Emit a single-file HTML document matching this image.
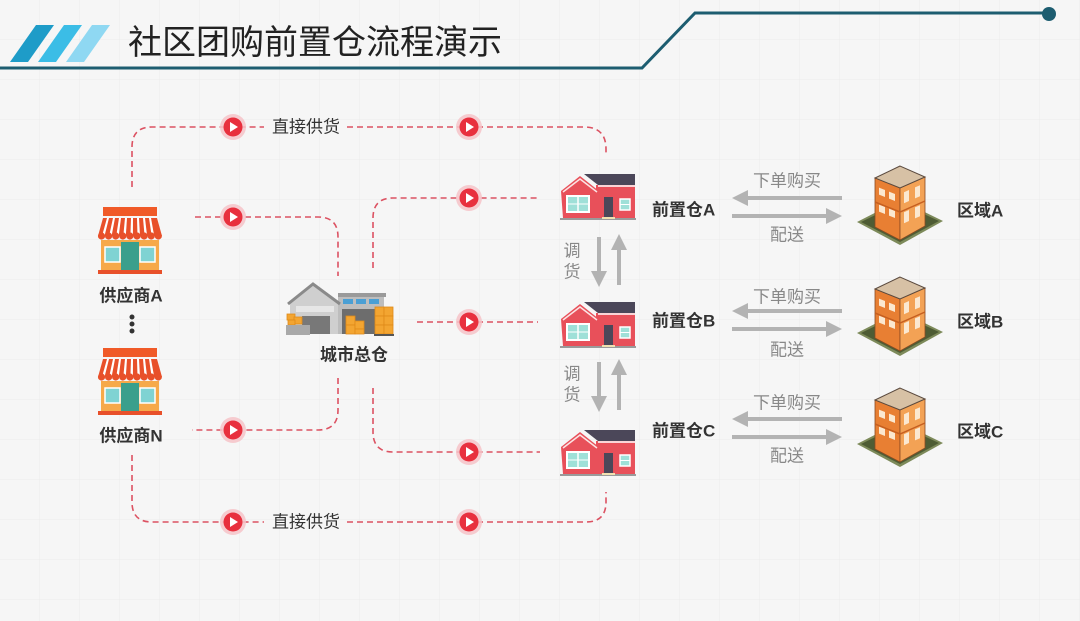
<!DOCTYPE html>
<html><head><meta charset="utf-8"><style>
html,body{margin:0;padding:0;background:#f6f6f6;}
svg{display:block;}
text{font-family:"Liberation Sans","Noto Sans CJK SC",sans-serif;}
</style></head><body>
<svg width="1080" height="621" viewBox="0 0 1080 621" xmlns="http://www.w3.org/2000/svg">
<defs>
<pattern id="grid" width="40" height="40" patternUnits="userSpaceOnUse">
<path d="M40 0V40M0 40H40" stroke="#ececec" stroke-width="1" fill="none"/>
</pattern>
<g id="play">
<circle r="13" fill="#f6c3c8" opacity="0.85"/>
<circle r="9.5" fill="#e8303e"/>
<polygon points="-3,-5 -3,5 5,0" fill="#fff"/>
</g>
<g id="store">
<rect x="6" y="0" width="54" height="9" fill="#f05a28"/>
<polygon points="6,11 60,11 65,29 1,29" fill="#e8502a"/>
<polygon points="10,11 12,11 7.5,29 5,29" fill="#fff"/>
<polygon points="16,11 18,11 14.6,29 12.1,29" fill="#fff"/>
<polygon points="22,11 24,11 21.7,29 19.2,29" fill="#fff"/>
<polygon points="28,11 30,11 28.8,29 26.3,29" fill="#fff"/>
<polygon points="34,11 36,11 35.9,29 33.4,29" fill="#fff"/>
<polygon points="40,11 42,11 43,29 40.5,29" fill="#fff"/>
<polygon points="46,11 48,11 50.1,29 47.6,29" fill="#fff"/>
<polygon points="52,11 54,11 57.2,29 54.7,29" fill="#fff"/>
<g fill="#e8502a">
<circle cx="4.5" cy="29" r="3.6"/><circle cx="11.6" cy="29" r="3.6"/><circle cx="18.7" cy="29" r="3.6"/>
<circle cx="25.8" cy="29" r="3.6"/><circle cx="32.9" cy="29" r="3.6"/><circle cx="40" cy="29" r="3.6"/>
<circle cx="47.1" cy="29" r="3.6"/><circle cx="54.2" cy="29" r="3.6"/><circle cx="61.3" cy="29" r="3.6"/>
</g>
<rect x="4" y="33" width="58" height="30" fill="#f6a94a"/>
<rect x="8" y="40" width="15" height="15" fill="#7fd3d3" stroke="#fff" stroke-width="1.5"/>
<rect x="43" y="40" width="15" height="15" fill="#7fd3d3" stroke="#fff" stroke-width="1.5"/>
<rect x="24" y="35" width="18" height="28" fill="#3a9f8c"/>
<rect x="1" y="63" width="64" height="4" fill="#e8502a"/>
</g>
<g id="house">
<polygon points="24,0 75,0 75,11 38,11" fill="#4b4759"/>
<rect x="36" y="11" width="39" height="33" fill="#e8505a"/>
<line x1="38" y1="12" x2="75" y2="12" stroke="#fff" stroke-width="1.5"/>
<polygon points="1,17 20,2 39,17 39,44 3,44" fill="#e8505a"/>
<polyline points="3,18 20,5 37,18" fill="none" stroke="#fbe3e3" stroke-width="1.5"/>
<rect x="7" y="22" width="22" height="16" fill="#9fe0d8" stroke="#fff" stroke-width="2"/>
<line x1="18" y1="22" x2="18" y2="38" stroke="#fff" stroke-width="1.5"/>
<line x1="7" y1="30" x2="29" y2="30" stroke="#fff" stroke-width="1"/>
<rect x="44" y="23" width="9" height="20" fill="#4b4759"/>
<rect x="60" y="25" width="10" height="11" fill="#9fe0d8" stroke="#fff" stroke-width="1.5"/>
<line x1="60" y1="30.5" x2="70" y2="30.5" stroke="#fff" stroke-width="1"/>
<rect x="0" y="44" width="76" height="2" fill="#9a9a9a"/>
<rect x="42" y="43" width="13" height="2" fill="#f0e0b0"/>
</g>
<g id="bldg">
<polygon points="0,57 43,35 86,56 43,80" fill="#7d8a5a"/>
<polygon points="4,57 43,38 82,56 43,77" fill="#4e5c34"/>
<polygon points="18,13 43,23 43,75 18,62" fill="#e87f33" stroke="#8a4a22" stroke-width="0.8"/>
<polygon points="43,23 68,12 68,61 43,75" fill="#f3a255" stroke="#8a4a22" stroke-width="0.8"/>
<polygon points="43,1 18,13 43,23 68,12" fill="#d7c1a5" stroke="#5b4a3e" stroke-width="1"/>
<g fill="#fbe8d0">
<polygon points="22,22.6 28,25 28,32 22,29.6"/>
<polygon points="32,26.6 38,29 38,36 32,33.6"/>
<polygon points="22,39.6 28,42 28,49 22,46.6"/>
<polygon points="32,43.6 38,46 38,53 32,50.6"/>
<polygon points="47,27.2 52,25 52,36 47,38.2"/>
<polygon points="58,22.4 63,20.2 63,31.2 58,33.4"/>
<polygon points="47,47.2 52,45 52,56 47,58.2"/>
<polygon points="58,42.4 63,40.2 63,51.2 58,53.4"/>
</g>
<polyline points="18,37 43,47 68,36" fill="none" stroke="#c65f20" stroke-width="1.5"/>
</g>
<g id="varrows">
<line x1="0" y1="0" x2="0" y2="36" stroke="#b3b3b3" stroke-width="4"/>
<polygon points="0,50 -8,34 8,34" fill="#b3b3b3"/>
<line x1="20" y1="12" x2="20" y2="48" stroke="#b3b3b3" stroke-width="4"/>
<polygon points="20,-3 12,13 28,13" fill="#b3b3b3"/>
</g>
<g id="harrows">
<line x1="746" y1="0" x2="842" y2="0" stroke="#b3b3b3" stroke-width="4"/>
<polygon points="732,0 748,-8 748,8" fill="#b3b3b3"/>
<line x1="732" y1="18" x2="828" y2="18" stroke="#b3b3b3" stroke-width="4"/>
<polygon points="842,18 826,10 826,26" fill="#b3b3b3"/>
</g>
</defs>

<rect width="1080" height="621" fill="#f6f6f6"/>
<rect width="1080" height="621" fill="url(#grid)"/>

<!-- header -->
<polygon points="10,62 28,62 54,25 36,25" fill="#1e9cc8"/>
<polygon points="38,62 56,62 82,25 64,25" fill="#3bbde6"/>
<polygon points="66,62 84,62 110,25 92,25" fill="#8fd8f2"/>
<text x="128" y="43" font-size="34" fill="#222" dominant-baseline="central">社区团购前置仓流程演示</text>
<polyline points="0,68 642,68 695,13 1046,13" fill="none" stroke="#1d5d70" stroke-width="3"/>
<circle cx="1049" cy="14" r="7" fill="#1d5d70"/>

<!-- dashed connectors -->
<g fill="none" stroke="#dc5262" stroke-width="1.6" stroke-dasharray="6 4">
<path d="M132,187 V147 Q132,127 152,127 H264"/>
<path d="M347,127 H584 Q606,127 606,149 V156"/>
<path d="M195,217 H318 Q338,217 338,237 V276"/>
<path d="M373,268 V218 Q373,198 393,198 H538"/>
<path d="M417,322 H538"/>
<path d="M373,388 V432 Q373,452 393,452 H540"/>
<path d="M338,378 V410 Q338,430 318,430 H192"/>
<path d="M132,455 V502 Q132,522 152,522 H264"/>
<path d="M347,522 H586 Q606,522 606,502 V492"/>
</g>
<use href="#play" x="233" y="127"/>
<use href="#play" x="469" y="127"/>
<use href="#play" x="233" y="217"/>
<use href="#play" x="469" y="198"/>
<use href="#play" x="469" y="322"/>
<use href="#play" x="469" y="452"/>
<use href="#play" x="233" y="430"/>
<use href="#play" x="233" y="522"/>
<use href="#play" x="469" y="522"/>

<text x="272" y="127" font-size="17" fill="#333" dominant-baseline="central">直接供货</text>
<text x="272" y="522" font-size="17" fill="#333" dominant-baseline="central">直接供货</text>

<!-- suppliers -->
<use href="#store" x="97" y="207"/>
<text x="131" y="296" font-size="17" font-weight="bold" fill="#333" text-anchor="middle" dominant-baseline="central">供应商A</text>
<circle cx="132" cy="317" r="2.5" fill="#333"/>
<circle cx="132" cy="324" r="2.5" fill="#333"/>
<circle cx="132" cy="331" r="2.5" fill="#333"/>
<use href="#store" x="97" y="348"/>
<text x="131" y="436" font-size="17" font-weight="bold" fill="#333" text-anchor="middle" dominant-baseline="central">供应商N</text>

<!-- warehouse -->
<g transform="translate(286,283)">
<rect x="52" y="13" width="46" height="38" fill="#bdbdbd"/>
<rect x="52" y="10" width="48" height="4" fill="#9a9a9a"/>
<rect x="57" y="16" width="10" height="5" fill="#4a9fd4"/>
<rect x="70" y="16" width="10" height="5" fill="#4a9fd4"/>
<rect x="83" y="16" width="10" height="5" fill="#4a9fd4"/>
<rect x="56" y="26" width="34" height="25" fill="#6d6d6d"/>
<polygon points="4,20 27,2 52,20 52,51 4,51" fill="#cfcfcf"/>
<polyline points="2,21 27,1 54,21" fill="none" stroke="#8a8a8a" stroke-width="3"/>
<rect x="10" y="23" width="38" height="6" fill="#e6e6e6"/>
<rect x="16" y="33" width="28" height="18" fill="#787878"/>
<g fill="#f3a531" stroke="#df8a1a" stroke-width="0.8">
<rect x="60" y="33" width="9" height="9"/><rect x="60" y="42" width="9" height="9"/>
<rect x="69" y="38" width="9" height="8"/><rect x="69" y="46" width="9" height="5"/>
<rect x="89" y="24" width="9" height="9"/><rect x="98" y="24" width="9" height="9"/>
<rect x="89" y="33" width="9" height="9"/><rect x="98" y="33" width="9" height="9"/>
<rect x="89" y="42" width="9" height="9"/><rect x="98" y="42" width="9" height="9"/>
<rect x="1" y="31" width="8" height="6"/><rect x="8" y="34" width="8" height="7"/>
<rect x="2" y="37" width="7" height="5"/>
</g>
<rect x="0" y="42" width="24" height="10" fill="#a9a9a9"/>
<rect x="88" y="51" width="20" height="2" fill="#555"/>
</g>
<text x="354" y="355" font-size="17" font-weight="bold" fill="#333" text-anchor="middle" dominant-baseline="central">城市总仓</text>

<!-- front warehouses -->
<use href="#house" x="560" y="174"/>
<use href="#house" x="560" y="302"/>
<use href="#house" x="560" y="430"/>
<text x="652" y="210" font-size="17" font-weight="bold" fill="#333" dominant-baseline="central">前置仓A</text>
<text x="652" y="321" font-size="17" font-weight="bold" fill="#333" dominant-baseline="central">前置仓B</text>
<text x="652" y="431" font-size="17" font-weight="bold" fill="#333" dominant-baseline="central">前置仓C</text>

<!-- transfer arrows -->
<use href="#varrows" x="599" y="237"/>
<use href="#varrows" x="599" y="362"/>
<text x="572" y="251" font-size="17" fill="#888" text-anchor="middle" dominant-baseline="central">调</text>
<text x="572" y="272" font-size="17" fill="#888" text-anchor="middle" dominant-baseline="central">货</text>
<text x="572" y="374" font-size="17" fill="#888" text-anchor="middle" dominant-baseline="central">调</text>
<text x="572" y="395" font-size="17" fill="#888" text-anchor="middle" dominant-baseline="central">货</text>

<!-- order / delivery arrows -->
<use href="#harrows" x="0" y="198"/>
<use href="#harrows" x="0" y="311"/>
<use href="#harrows" x="0" y="419"/>
<g font-size="17" fill="#888" dominant-baseline="central">
<text x="753" y="181">下单购买</text>
<text x="770" y="235">配送</text>
<text x="753" y="297">下单购买</text>
<text x="770" y="350">配送</text>
<text x="753" y="403">下单购买</text>
<text x="770" y="456">配送</text>
</g>

<!-- regions -->
<use href="#bldg" x="857" y="165"/>
<use href="#bldg" x="857" y="276"/>
<use href="#bldg" x="857" y="387"/>
<text x="957" y="211" font-size="17" font-weight="bold" fill="#333" dominant-baseline="central">区域A</text>
<text x="957" y="322" font-size="17" font-weight="bold" fill="#333" dominant-baseline="central">区域B</text>
<text x="957" y="432" font-size="17" font-weight="bold" fill="#333" dominant-baseline="central">区域C</text>
</svg>
</body></html>
